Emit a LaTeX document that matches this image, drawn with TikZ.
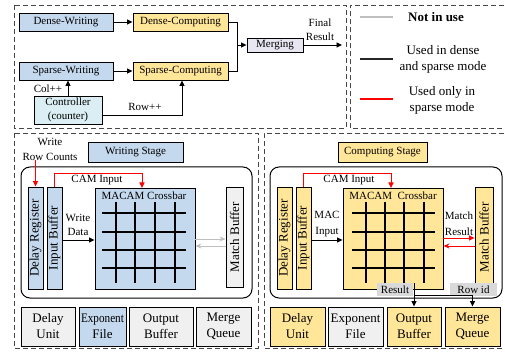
\documentclass[tikz,border=0pt]{standalone}
\usepackage{fontspec}
\usepackage{graphicx}
\setmainfont{Liberation Serif}
\usetikzlibrary{arrows.meta}

\definecolor{bluefill}{RGB}{197,217,238}
\definecolor{yellowfill}{RGB}{255,230,153}
\definecolor{grayfill}{RGB}{240,240,240}
\definecolor{ctrlfill}{RGB}{218,238,243}
\definecolor{mergefill}{RGB}{232,230,240}
\definecolor{tagfill}{RGB}{217,217,217}
\definecolor{unused}{RGB}{191,191,191}
\definecolor{framegray}{RGB}{70,70,70}

\begin{document}
\begin{tikzpicture}[x=1pt,y=-1pt,
  font=\fontsize{11}{13}\selectfont,
  blk/.style={draw=black,line width=0.9pt,inner sep=0pt,align=center},
  blue/.style={blk,fill=bluefill},
  yel/.style={blk,fill=yellowfill},
  gry/.style={blk,fill=grayfill},
  unit/.style={minimum width=#1,minimum height=39pt,font=\fontsize{13}{16}\selectfont},
  bar/.style={minimum width=15pt,minimum height=102pt,font=\fontsize{13}{15}\selectfont},
  tag/.style={fill=tagfill,inner sep=0pt,minimum height=13pt},
  lbl/.style={inner sep=0pt,align=center},
  frame/.style={draw=framegray,line width=0.8pt,dash pattern=on 5pt off 3pt},
  conn/.style={line width=0.9pt,-{Triangle[length=5.5pt,width=5pt]}},
  redconn/.style={conn,draw=red,red},
  grayconn/.style={line width=0.9pt,draw=unused,-{Stealth[length=6pt,width=5pt]}},
  redback/.style={line width=0.9pt,draw=red,-{Stealth[length=6pt,width=5pt]}},
  plainline/.style={line width=0.9pt},
  gridline/.style={line width=1.1pt},
  panel/.style={line width=1pt,rounded corners=9pt},
  legendtext/.style={lbl,font=\fontsize{13}{16}\selectfont}
]
\path[use as bounding box] (0,0) rectangle (505,352);
\clip (0,0) rectangle (505,352);

% ---------- dashed frames ----------
\draw[frame] (14,5) rectangle (346,128);
\draw[frame] (512,5) -- (350,5) -- (350,128) -- (512,128);
\draw[frame] (14,133) rectangle (258,348);
\draw[frame] (512,133) -- (264,133) -- (264,348) -- (512,348);

% ---------- dataflow overview ----------
\node[blue,minimum width=94pt,minimum height=18pt] (dw) at (66,22) {Dense-Writing};
\node[yel,minimum width=95pt,minimum height=18pt] (dc) at (180.5,22) {Dense-Computing};
\node[blue,minimum width=94pt,minimum height=18pt] (sw) at (66,71) {Sparse-Writing};
\node[yel,minimum width=95pt,minimum height=18pt] (sc) at (180.5,71) {Sparse-Computing};
\node[blk,fill=ctrlfill,minimum width=68pt,minimum height=28pt,font=\fontsize{11}{14}\selectfont] (ctrl) at (68,110) {Controller\\(counter)};
\node[blk,fill=mergefill,minimum width=56pt,minimum height=14pt] (mg) at (275,45) {Merging};
\coordinate (jn) at (237,45);
\coordinate (out) at (342,45);

\draw[conn] (dw) -- (dc);
\draw[conn] (sw) -- (sc);
\draw[plainline] (dc.east) -| (jn);
\draw[plainline] (sc.east) -| (jn);
\draw[conn] (jn) -- (mg.west);
\draw[conn] (mg.east) -- (out);
\node[lbl] (fin) at (320,23) {Final};
\node[lbl] (res) at (320,37) {Result};

\draw[conn] (ctrl.north) -- (sw.south -| ctrl.north);
\node[lbl] (colinc) at (48,89) {Col++};
\coordinate (rowturn) at (182,115);
\draw[conn] (ctrl.east |- rowturn) -- (rowturn) -- (sc.south -| rowturn);
\node[lbl] (rowinc) at (145,107) {Row++};

% ---------- legend ----------
\coordinate (l1a) at (360,17);  \coordinate (l1b) at (393,17);
\coordinate (l2a) at (360,59);  \coordinate (l2b) at (393,59);
\coordinate (l3a) at (360,99);  \coordinate (l3b) at (393,99);
\draw[line width=1.2pt,unused] (l1a) -- (l1b);
\draw[line width=1.2pt,black!85] (l2a) -- (l2b);
\draw[line width=1.2pt,red] (l3a) -- (l3b);
\node[legendtext,anchor=west,font=\fontsize{13}{16}\selectfont\bfseries] (lg1) at (408,17) {Not in use};
\node[legendtext] (lg2) at (443,59) {Used in dense\\and sparse mode};
\node[legendtext] (lg3) at (442,100) {Used only in\\sparse mode};

% ---------- writing stage ----------
\node[lbl,font=\fontsize{11}{15}\selectfont] (wrc) at (50,149) {Write\\Row Counts};
\node[blue,minimum width=95pt,minimum height=20pt] (ws) at (135.5,152) {Writing Stage};
\draw[panel] (21,167) rectangle (252,298);

\node[blue,bar] (dr1) at (35.5,238) {\rotatebox{90}{Delay Register}};
\node[blue,bar] (ib1) at (54.5,238) {\rotatebox{90}{Input Buffer}};
\node[blue,minimum width=100pt,minimum height=101pt] (xb1) at (145,238.5) {};
\node[lbl] (xt1) at (144,196) {MACAM Crossbar};
\foreach \gx in {116,135,155,175} \draw[gridline] (\gx,202) -- (\gx,283);
\foreach \gy in {213,232,250,268} \draw[gridline] (102,\gy) -- (186,\gy);
\node[gry,bar,minimum width=17pt,minimum height=100pt] (mb1) at (234.5,237) {\rotatebox{90}{Match Buffer}};

\draw[redconn] (dr1.north |- wrc.south) -- (dr1.north);
\coordinate (cam1) at (142,188);
\draw[redconn] (ib1.north) -- (ib1.north |- 0,173) -| (cam1);
\node[lbl] (camt1) at (97,180) {CAM Input};
\draw[conn] (ib1.east |- 0,240) -- (xb1.west |- 0,240);
\node[lbl,font=\fontsize{11}{14}\selectfont] (wd) at (78,225) {Write\\Data};
\draw[grayconn] (xb1.east |- 0,239) -- (mb1.west |- 0,239);
\draw[grayconn] (mb1.west |- 0,246) -- (xb1.east |- 0,246);

\node[gry,unit=54pt] (du1) at (48,326.5) {Delay\\Unit};
\node[blue,unit=47pt] (ef1) at (102.5,326.5) {\scalebox{0.86}[1]{Exponent}\\File};
\node[gry,unit=64pt] (ob1) at (161,326.5) {Output\\Buffer};
\node[gry,unit=55pt] (mq1) at (223.5,326.5) {Merge\\Queue};

% ---------- computing stage ----------
\node[yel,minimum width=89pt,minimum height=20pt] (cs) at (382.5,152) {Computing Stage};
\draw[panel] (270,167) rectangle (502,298);

\node[yel,bar] (dr2) at (284.5,238) {\rotatebox{90}{Delay Register}};
\node[yel,bar] (ib2) at (303.5,238) {\rotatebox{90}{Input Buffer}};
\node[yel,minimum width=100pt,minimum height=101pt] (xb2) at (393,238.5) {};
\node[lbl] (xt2) at (393,196) {MACAM~~Crossbar};
\foreach \gx in {366,385,404,424} \draw[gridline] (\gx,202) -- (\gx,283);
\foreach \gy in {213,232,250,268} \draw[gridline] (352,\gy) -- (435,\gy);
\node[yel,bar,minimum width=18pt,minimum height=100pt] (mb2) at (484,237) {\rotatebox{90}{Match Buffer}};

\coordinate (cam2) at (391,188);
\draw[redconn] (ib2.north) -- (ib2.north |- 0,173) -| (cam2);
\node[lbl] (camt2) at (349,180) {CAM Input};
\draw[conn] (ib2.east |- 0,240) -- (xb2.west |- 0,240);
\node[lbl,font=\fontsize{11}{16}\selectfont] (mi) at (327,224) {MAC\\Input};
\draw[redconn] (xb2.east |- 0,238) -- (mb2.west |- 0,238);
\draw[redback] (mb2.west |- 0,246) -- (xb2.east |- 0,246);
\node[lbl,font=\fontsize{11}{16}\selectfont] (mr) at (459,224) {Match\\Result};

\node[yel,unit=55pt] (du2) at (297.5,326.5) {Delay\\Unit};
\node[gry,unit=55pt] (ef2) at (355.5,326.5) {Exponent\\File};
\node[yel,unit=54pt] (ob2) at (414,326.5) {Output\\Buffer};
\node[yel,unit=55pt] (mq2) at (472.5,326.5) {Merge\\Queue};

\node[tag,minimum width=36pt] (rt) at (395,289.5) {Result};
\node[tag,minimum width=47pt] (rid) at (473.5,289.5) {Row id};
\coordinate (rsrc) at (414,283);
\draw[conn] (rsrc) -- (ob2.north);
\draw[conn] (ob2.north |- 0,295) -| (mq2.north);
\end{tikzpicture}
\end{document}
